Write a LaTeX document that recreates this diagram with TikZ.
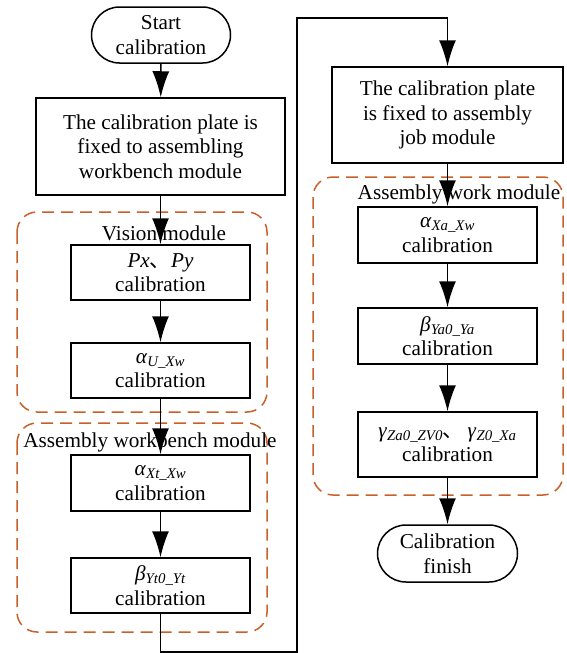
\documentclass[tikz,border=0pt]{standalone}
\usepackage{fontspec}
\setmainfont{Liberation Serif}
\newfontfamily\cjk{Noto Sans CJK SC}
\usetikzlibrary{arrows.meta,shapes.misc}
\definecolor{grp}{HTML}{C8602A}
\newcommand{\cjkc}{{\cjk 、}}
\newcommand{\sbs}[1]{\textsubscript{\itshape #1}}
\begin{document}
\begin{tikzpicture}[x=1pt,y=-1pt,
  every node/.style={font=\fontsize{21.2}{24.5}\selectfont, align=center, inner sep=0pt},
  proc/.style={draw, line width=1.5pt, rectangle, minimum width=179pt, minimum height=55pt},
  term/.style={draw, line width=1.5pt, rounded rectangle, minimum width=139pt, minimum height=56pt},
  grpbox/.style={draw=grp, line width=1.5pt, dash pattern=on 12pt off 7pt, rounded corners=20pt},
  conn/.style={line width=1.6pt, -{Latex[length=26pt,width=17pt]}},
  lbl/.style={fill=none}]
\useasboundingbox (0,0) rectangle (566,653);
% group boxes
\draw[grpbox] (17,212) rectangle (267,412);
\draw[grpbox] (17,423) rectangle (267,632);
\draw[grpbox] (313,177) rectangle (563,495);
% nodes
\node[term] (start) at (161,35) {Start\\calibration};
\node[proc, minimum width=249pt, minimum height=97pt] (fix1) at (160.5,146.5) {The calibration plate is\\fixed to assembling\\workbench module};
\node[lbl] (vis) at (164,233) {Vision module};
\node[proc] (pxy) at (160.5,272.5) {\textit{Px}\cjkc\textit{Py}\\calibration};
\node[proc] (aU) at (160.5,370.5) {\textit{α}\sbs{U\_Xw}\\calibration};
\node[lbl] (awb) at (150,442) {Assembly workbench module};
\node[proc, minimum height=56pt] (aXt) at (160.5,483) {\textit{α}\sbs{Xt\_Xw}\\calibration};
\node[proc] (bYt) at (160.5,585.5) {\textit{β}\sbs{Yt0\_Yt}\\calibration};
\node[proc, minimum width=231pt, minimum height=96pt] (fix2) at (447.5,115) {The calibration plate\\is fixed to assembly\\job module};
\node[lbl] (awm) at (459,194) {Assembly work module};
\node[proc, minimum height=56pt] (aXa) at (447.5,235) {\textit{α}\sbs{Xa\_Xw}\\calibration};
\node[proc, minimum height=56pt] (bYa) at (447.5,336) {\textit{β}\sbs{Ya0\_Ya}\\calibration};
\node[proc, minimum height=65pt] (gZ) at (447.5,444.5) {\textit{γ}\sbs{Za0\_ZV0}\cjkc\,\textit{γ}\sbs{Z0\_Xa}\\calibration};
\node[term, minimum width=140pt, minimum height=57pt] (fin) at (447.5,553.5) {Calibration\\finish};
% connectors
\coordinate (c1) at (160.5,652);
\coordinate (c2) at (297,652);
\coordinate (c3) at (297,18);
\coordinate (c4) at (447.5,18);
\draw[conn] (start) -- (fix1);
\draw[conn] (fix1) -- (pxy);
\draw[conn] (pxy) -- (aU);
\draw[conn] (aU) -- (aXt);
\draw[conn] (aXt) -- (bYt);
\draw[conn] (bYt.south) -- (c1) -- (c2) -- (c3) -- (c4) -- (fix2.north);
\draw[conn] (fix2) -- (aXa);
\draw[conn] (aXa) -- (bYa);
\draw[conn] (bYa) -- (gZ);
\draw[conn] (gZ) -- (fin);
\end{tikzpicture}
\end{document}
